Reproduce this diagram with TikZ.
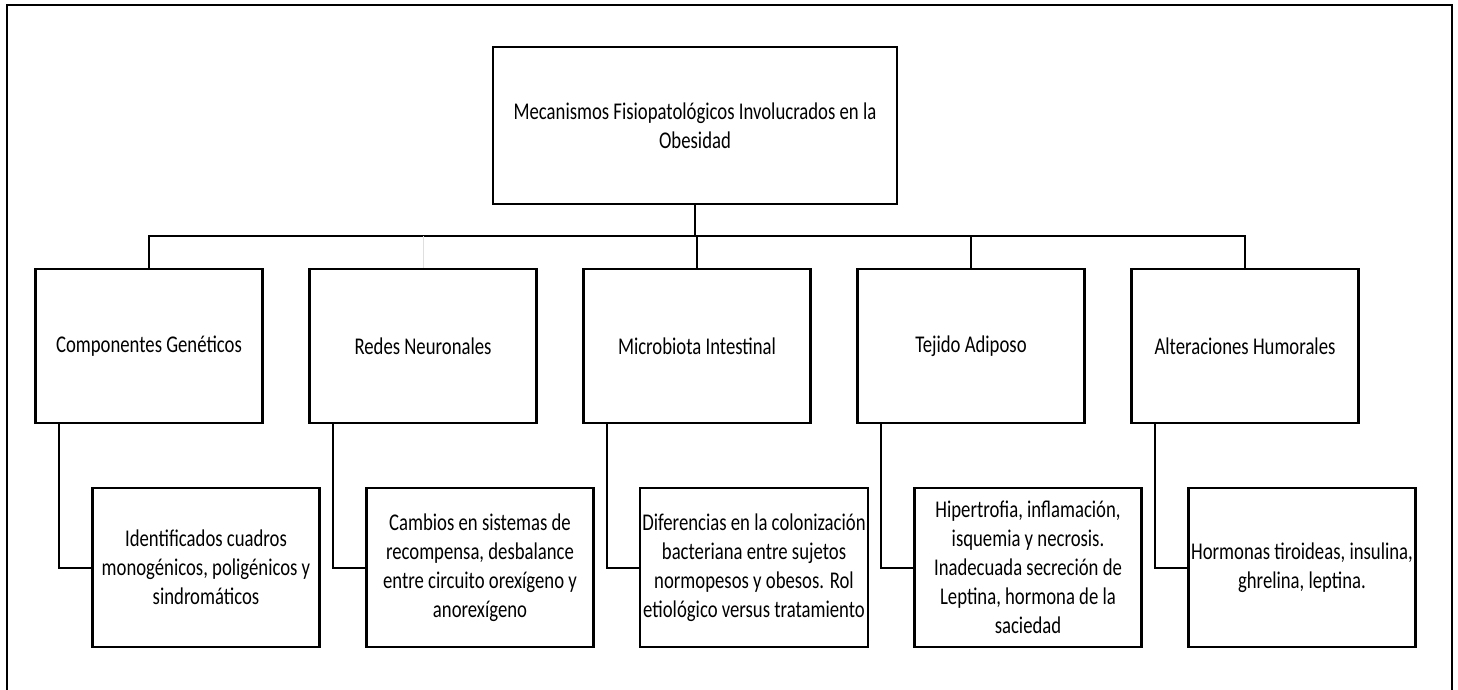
\documentclass[tikz,border=0pt]{standalone}
\usepackage{fontspec}
\setmainfont{Carlito}[FakeStretch=0.78]
\usepackage{tikz}

\begin{document}
\begin{tikzpicture}[x=0.5pt, y=-0.5pt,
    every node/.style={font=\fontsize{12}{14.5}\selectfont, align=center, inner sep=1pt},
    mainbox/.style={draw, line width=1.1pt, minimum width=202pt, minimum height=78.5pt},
    topicbox/.style={draw, line width=1.1pt, minimum width=113.5pt, minimum height=77pt},
    detailbox/.style={draw, line width=1.1pt, minimum width=113.5pt, minimum height=79.5pt},
    link/.style={line width=1pt}]
    \useasboundingbox (0, 0) rectangle (1458, 690);
    \draw[line width=0.9pt] (7, 690) -- (7, 5) -- (1452, 5) -- (1452, 690);

    \node[mainbox] (mecanismos) at (695, 125.5) {Mecanismos Fisiopatológicos Involucrados en la\\Obesidad};
    \coordinate (bus) at (0, 236);

    \node[topicbox] (genetica) at (149, 346) {Componentes Genéticos};
    \node[topicbox] (redes) at (423, 346) {Redes Neuronales};
    \node[topicbox] (microbiota) at (697, 346) {Microbiota Intestinal};
    \node[topicbox] (adiposo) at (971, 346) {Tejido Adiposo};
    \node[topicbox] (humoral) at (1245, 346) {Alteraciones Humorales};

    \node[detailbox] (geneticaD) at (206, 567.5) {Identificados cuadros\\monogénicos, poligénicos y\\sindromáticos};
    \node[detailbox] (redesD) at (480, 567.5) {Cambios en sistemas de\\recompensa, desbalance\\entre circuito orexígeno y\\anorexígeno};
    \node[detailbox] (microbiotaD) at (754, 567.5) {Diferencias en la colonización\\bacteriana entre sujetos\\normopesos y obesos. Rol\\etiológico versus tratamiento};
    \node[detailbox] (adiposoD) at (1028, 567.5) {Hipertrofia, inflamación,\\isquemia y necrosis.\\Inadecuada secreción de\\Leptina, hormona de la\\saciedad};
    \node[detailbox] (humoralD) at (1302, 567.5) {Hormonas tiroideas, insulina,\\ghrelina, leptina.};

    % tree
    \draw[link] (mecanismos.south) -- (mecanismos.south |- bus);
    \draw[link] (genetica.north) -- (genetica.north |- bus) -- (humoral.north |- bus) -- (humoral.north);
    \draw[gray!25, line width=0.5pt] (redes.north) -- (redes.north |- bus);
    \draw[link] (microbiota.north) -- (microbiota.north |- bus);
    \draw[link] (adiposo.north) -- (adiposo.north |- bus);

    \draw[link] ([xshift=-45.25pt]genetica.south) |- (geneticaD.west);
    \draw[link] ([xshift=-45.25pt]redes.south) |- (redesD.west);
    \draw[link] ([xshift=-45.25pt]microbiota.south) |- (microbiotaD.west);
    \draw[link] ([xshift=-45.25pt]adiposo.south) |- (adiposoD.west);
    \draw[link] ([xshift=-45.25pt]humoral.south) |- (humoralD.west);
\end{tikzpicture}
\end{document}
